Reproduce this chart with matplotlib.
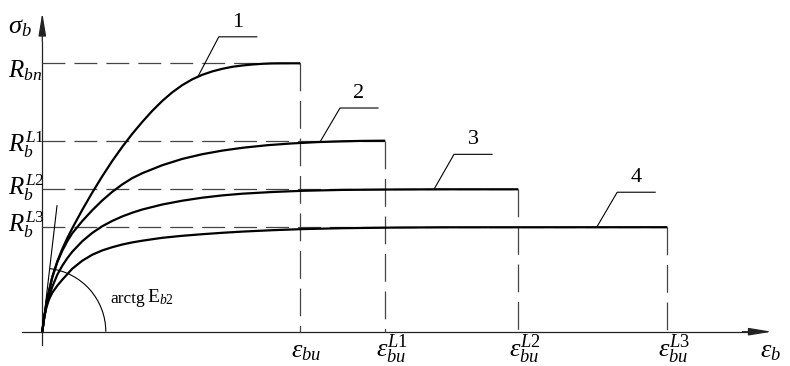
import numpy as np
import matplotlib
matplotlib.use("Agg")
import matplotlib.pyplot as plt
from matplotlib.patches import Arc

plt.rcParams["font.family"] = ["Liberation Serif", "DejaVu Serif"]
plt.rcParams["mathtext.fontset"] = "custom"
plt.rcParams["mathtext.rm"] = "Liberation Serif"
plt.rcParams["mathtext.it"] = "Liberation Serif:italic"
plt.rcParams["lines.scale_dashes"] = False

# schematic units (strain along x, stress along y), origin at the axes crossing
eps_ult = [258, 343, 476, 625]          # eps_bu, eps_bu^L1, eps_bu^L2, eps_bu^L3
sig_max = [268.4, 191, 142.4, 104.5]    # R_bn, R_b^L1, R_b^L2, R_b^L3

curve1_x = [0, 2, 5, 10, 15, 20, 25, 30, 40, 50, 60, 70, 80, 90, 100, 110, 120,
            130, 140, 150, 160, 170, 180, 190, 200, 210, 220, 230, 240, 258]
curve1_y = [0, 15.4, 33.5, 54.8, 70.3, 82.8, 93.6, 103.5, 121.9, 139.2, 155.5, 170.8,
            184.9, 197.9, 209.8, 220.9, 230.8, 239.4, 246.6, 252.4, 256.9, 260.3,
            262.9, 264.9, 266.2, 267.2, 267.9, 268.3, 268.4, 268.4]

curve2_x = [0, 2, 5, 10, 15, 20, 25, 30, 40, 50, 60, 70, 80, 90, 100, 120, 140,
            160, 180, 200, 225, 250, 275, 300, 320, 343]
curve2_y = [0, 15.4, 33.5, 54.5, 69.5, 81, 90.5, 98.5, 110.7, 121.5, 131.3, 139.9,
            147.3, 153.6, 158.5, 166.5, 172.8, 177.5, 181.1, 183.9, 186.5, 188.3,
            189.6, 190.4, 190.8, 191]

curve3_x = [0, 2, 5, 10, 15, 20, 25, 30, 40, 50, 60, 70, 80, 90, 100, 120, 140,
            160, 180, 200, 230, 260, 300, 350, 400, 476]
curve3_y = [0, 14.5, 30, 45, 57, 66, 73.5, 80, 90.5, 98.8, 105.5, 110.8, 115.3, 119,
            122.2, 127.2, 131, 134, 136.3, 138, 139.7, 140.9, 141.8, 142.2, 142.4, 142.4]

curve4_x = [0, 1.5, 4, 7, 10, 15, 20, 25, 30, 40, 50, 60, 70, 80, 90, 100, 120,
            140, 160, 180, 200, 230, 260, 300, 350, 400, 625]
curve4_y = [0, 12, 24, 33, 39, 46, 52, 57.5, 63, 71, 77, 81.3, 84.5, 87.2, 89.3, 91,
            93.9, 95.9, 97.5, 98.9, 100.1, 101.5, 102.6, 103.5, 104.1, 104.4, 104.5]

curves = [(curve1_x, curve1_y), (curve2_x, curve2_y), (curve3_x, curve3_y), (curve4_x, curve4_y)]
curve_names = ["1", "2", "3", "4"]
R_labels = [r"$R_{bn}$", r"$R_b^{L1}$", r"$R_b^{L2}$", r"$R_b^{L3}$"]
eps_labels = [r"$\varepsilon_{bu}$", r"$\varepsilon_{bu}^{L1}$",
              r"$\varepsilon_{bu}^{L2}$", r"$\varepsilon_{bu}^{L3}$"]

fig = plt.figure(figsize=(7.9, 3.66), dpi=100)
ax = fig.add_axes([0, 0, 1, 1])
ax.set_xlim(-42.3, 747.7)
ax.set_ylim(-34.3, 331.7)
ax.axis("off")

# axes with arrows
axc = "#222222"
ax.plot([-20, 715], [0, 0], color=axc, lw=0.9)
ax.plot([0, 0], [-13, 290], color=axc, lw=0.9)
ax.annotate("", xy=(729.5, 0), xytext=(700, 0),
            arrowprops=dict(arrowstyle="-|>,head_length=14,head_width=2.3",
                            mutation_scale=1, color=axc, lw=0.9, shrinkA=0, shrinkB=0))
ax.annotate("", xy=(0, 319), xytext=(0, 290),
            arrowprops=dict(arrowstyle="-|>,head_length=14,head_width=2.3",
                            mutation_scale=1, color=axc, lw=0.9, shrinkA=0, shrinkB=0))

# dashed guides
dc = "#444444"
for e, s in zip(eps_ult, sig_max):
    ax.plot([0, e], [s, s], color=dc, lw=0.9, linestyle=(0, (16.5, 6.5)))
    ax.plot([e, e], [s, 0], color=dc, lw=0.9, linestyle=(0, (20, 7)))

# curves
for cx, cy in curves:
    ax.plot(cx, cy, color="black", lw=1.6, solid_capstyle="butt", solid_joinstyle="round")

# initial tangent and angle arc
ax.plot([0, 14.7], [0, 126], color="black", lw=0.8)
ax.add_patch(Arc((0, 0), 127, 127, theta1=0, theta2=83, color="black", lw=0.8))
ax.text(67.7, 29, "arctg", fontsize=12.5, ha="left", va="baseline")
ax.text(104.5, 29, r"$\mathrm{E}_{b2}$", fontsize=14, ha="left", va="baseline")

# curve numbers with leaders
leader_u = [155.5, 277.7, 391.7, 554.4]
leader_d = [(21, 40), (20, 34), (20, 35), (20.5, 35)]
for (cx, cy), name, u, (dx, dy) in zip(curves, curve_names, leader_u, leader_d):
    v = np.interp(u, cx, cy)
    kx, ky = u + dx, v + dy
    ax.plot([u, kx, kx + 38], [v, ky, ky], color="black", lw=0.8)
    ax.text(kx + 19, ky + 5, name, fontsize=16, ha="center", va="bottom")

# stress level labels
R_base = [77, 152, 195, 232]
for lab, b in zip(R_labels, R_base):
    ax.text(-34.5, 331.7 - b, lab, fontsize=18, ha="left", va="baseline")
ax.text(-34.5, 331.7 - 33, r"$\sigma_b$", fontsize=19, ha="left", va="baseline")

# strain labels
for e, lab in zip(eps_ult, eps_labels):
    ax.text(e - 9, 331.7 - 357, lab, fontsize=19, ha="left", va="baseline")
ax.text(760 - 42.3, 331.7 - 357, r"$\varepsilon_b$", fontsize=19, ha="left", va="baseline")

fig.savefig("out.png", dpi=100, facecolor="white")
